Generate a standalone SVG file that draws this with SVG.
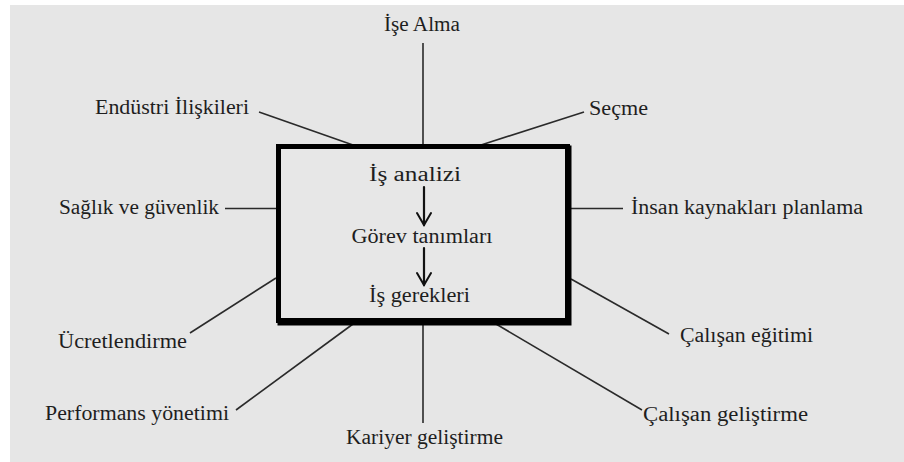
<svg xmlns="http://www.w3.org/2000/svg" width="904" height="462" viewBox="0 0 904 462">
  <style>
    text { font-family: 'Liberation Serif', 'Times New Roman', serif; font-size: 20px; fill: #1e1e1e; }
    .mid { text-anchor: middle; }
    .spoke { stroke: #2a2a2a; stroke-width: 1.6; fill: none; }
    .flow { stroke: #111; stroke-width: 2.2; fill: none; stroke-linecap: round; }
  </style>
  <defs>
    <marker id="vhead" viewBox="0 0 16 16" refX="14" refY="8" markerWidth="16" markerHeight="16" markerUnits="userSpaceOnUse" orient="auto">
      <path d="M2,1 L14,8 L2,15" fill="none" stroke="#111" stroke-width="2" stroke-linecap="round" stroke-linejoin="miter"/>
    </marker>
  </defs>

  <!-- page backdrop -->
  <rect x="0" y="0" width="904" height="462" fill="#ffffff"/>
  <rect x="10" y="5" width="894" height="457" fill="#e6e6e6"/>

  <!-- spokes from the central box to each HR function -->
  <g id="connectors">
    <line class="spoke" x1="423" y1="43" x2="423" y2="145"/>
    <line class="spoke" x1="259" y1="112" x2="353" y2="145"/>
    <line class="spoke" x1="481" y1="145" x2="584" y2="112"/>
    <line class="spoke" x1="225" y1="208.5" x2="277" y2="208.5"/>
    <line class="spoke" x1="570" y1="208.5" x2="623" y2="208.5"/>
    <line class="spoke" x1="276" y1="278" x2="190" y2="333"/>
    <line class="spoke" x1="571" y1="279" x2="669" y2="334"/>
    <line class="spoke" x1="353" y1="324" x2="236" y2="410"/>
    <line class="spoke" x1="423" y1="324" x2="423" y2="423"/>
    <line class="spoke" x1="496" y1="324" x2="642" y2="410"/>
  </g>

  <!-- central box: job analysis chain -->
  <g id="center">
    <rect x="280" y="148" width="289" height="175" fill="none" stroke="#000" stroke-width="5"/>
    <rect x="278.5" y="146.5" width="289" height="174" fill="#e7e7e7" stroke="#000" stroke-width="5"/>
    <text class="mid" x="415" y="181" textLength="92" lengthAdjust="spacingAndGlyphs">İş analizi</text>
    <line class="flow" x1="424" y1="187" x2="424" y2="225" marker-end="url(#vhead)"/>
    <text class="mid" x="422" y="243" textLength="141" lengthAdjust="spacingAndGlyphs">Görev tanımları</text>
    <line class="flow" x1="424" y1="248" x2="424" y2="285" marker-end="url(#vhead)"/>
    <text class="mid" x="419.5" y="302" textLength="101" lengthAdjust="spacingAndGlyphs">İş gerekleri</text>
  </g>

  <g id="ise-alma">
    <text class="mid" x="422" y="31" textLength="76" lengthAdjust="spacingAndGlyphs">İşe Alma</text>
  </g>
  <g id="endustri-iliskileri">
    <text x="95" y="114" textLength="154" lengthAdjust="spacingAndGlyphs">Endüstri İlişkileri</text>
  </g>
  <g id="secme">
    <text x="589" y="115" textLength="59" lengthAdjust="spacingAndGlyphs">Seçme</text>
  </g>
  <g id="saglik-guvenlik">
    <text x="59" y="214" textLength="160" lengthAdjust="spacingAndGlyphs">Sağlık ve güvenlik</text>
  </g>
  <g id="ik-planlama">
    <text x="631" y="214" textLength="232" lengthAdjust="spacingAndGlyphs">İnsan kaynakları planlama</text>
  </g>
  <g id="ucretlendirme">
    <text x="58" y="348" textLength="129" lengthAdjust="spacingAndGlyphs">Ücretlendirme</text>
  </g>
  <g id="calisan-egitimi">
    <text x="680" y="342" textLength="133" lengthAdjust="spacingAndGlyphs">Çalışan eğitimi</text>
  </g>
  <g id="performans-yonetimi">
    <text x="45" y="420" textLength="184" lengthAdjust="spacingAndGlyphs">Performans yönetimi</text>
  </g>
  <g id="calisan-gelistirme">
    <text x="643" y="421" textLength="165" lengthAdjust="spacingAndGlyphs">Çalışan geliştirme</text>
  </g>
  <g id="kariyer-gelistirme">
    <text x="346" y="444" textLength="157" lengthAdjust="spacingAndGlyphs">Kariyer geliştirme</text>
  </g>
</svg>
